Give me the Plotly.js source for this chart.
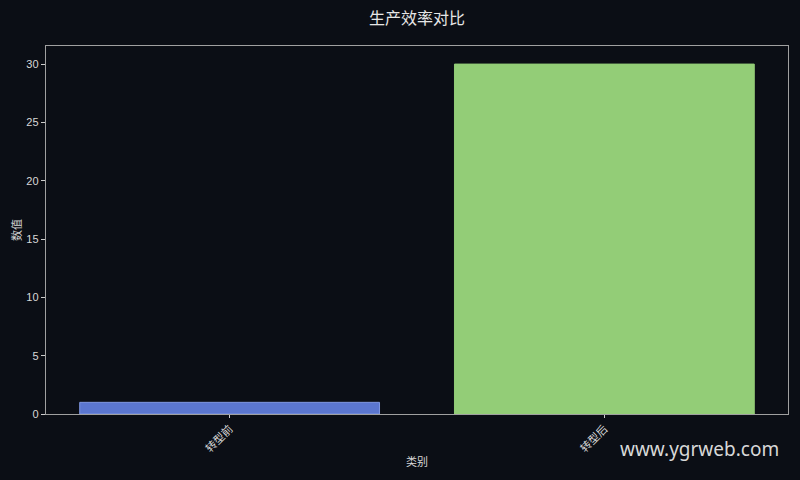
<!DOCTYPE html>
<html>
<head>
<meta charset="utf-8">
<script src="https://cdn.plot.ly/plotly-3.0.1.min.js"></script>
<style>
  html, body { margin: 0; padding: 0; background: #0b0e15; }
  #chart { width: 800px; height: 480px; }
</style>
</head>
<body>
<div id="chart"></div>
<script>
  // chart data
  var categories = ['转型前', '转型后'];
  var values = [1, 30];
  var barColors = ['#5b76cf', '#93cd77'];
  var edgeColors = ['#7f97e0', '#93cd77'];
  var yTicks = [0, 5, 10, 15, 20, 25, 30];

  var cjk = '"Noto Sans CJK SC", "Liberation Sans", Arial, sans-serif';
  var tickFont = { family: '"Liberation Sans", Arial, ' + cjk, size: 11, color: '#d8d8d8' };

  var data = [{
    type: 'bar',
    x: categories,
    y: values,
    marker: {
      color: barColors,
      line: { color: edgeColors, width: 1 }
    },
    hoverinfo: 'x+y'
  }];

  var layout = {
    width: 800,
    height: 480,
    paper_bgcolor: '#0b0e15',
    plot_bgcolor: '#0b0e15',
    showlegend: false,
    bargap: 0.2,
    margin: { l: 46, r: 12, t: 46, b: 66, pad: 0 },
    title: {
      text: '生产效率对比',
      font: { family: cjk, size: 16, color: '#e6e6e6' },
      x: 0.5, xref: 'paper',
      y: 0.962, yanchor: 'middle'
    },
    xaxis: {
      type: 'category',
      range: [-0.49, 1.49],
      tickangle: -45,
      tickfont: { family: cjk, size: 11, color: '#d8d8d8' },
      ticks: 'outside', ticklen: 3, tickcolor: '#cccccc', tickwidth: 1,
      showgrid: false, zeroline: false,
      showline: true, linecolor: '#a0a0a0', linewidth: 1.2, mirror: true,
      title: { text: '类别', font: { family: cjk, size: 11, color: '#d8d8d8' }, standoff: 4 }
    },
    yaxis: {
      range: [0, 31.55],
      tickvals: yTicks,
      tickfont: tickFont,
      ticks: 'outside', ticklen: 4, tickcolor: '#cccccc', tickwidth: 1,
      showgrid: false, zeroline: false,
      showline: true, linecolor: '#a0a0a0', linewidth: 1.2, mirror: true,
      title: { text: '数值', font: { family: cjk, size: 11, color: '#d8d8d8' }, standoff: 2 }
    },
    annotations: [{
      text: 'www.ygrweb.com',
      xref: 'paper', yref: 'paper',
      x: 0.99, y: -0.095,
      xanchor: 'right', yanchor: 'middle',
      showarrow: false,
      font: { family: '"Noto Sans", "Open Sans", sans-serif', size: 19, color: '#d8d8d8' }
    }]
  };

  Plotly.newPlot('chart', data, layout, { displayModeBar: false, staticPlot: true });
</script>
</body>
</html>
